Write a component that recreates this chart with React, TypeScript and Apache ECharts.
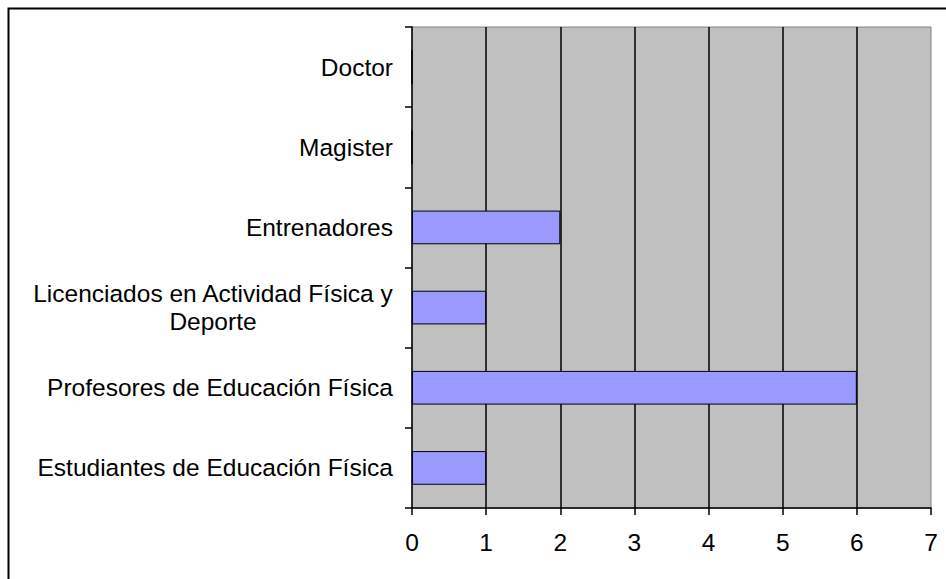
import React, { useEffect, useRef } from "react";
import * as echarts from "echarts";

const categories = [
  "Estudiantes de Educación Física",
  "Profesores de Educación Física",
  "Licenciados en Actividad Física y\nDeporte",
  "Entrenadores",
  "Magister",
  "Doctor",
];
const values = [1, 6, 1, 2, 0, 0];
const xTicks = [0, 1, 2, 3, 4, 5, 6, 7];

const FONT = "'Liberation Sans', Arial, sans-serif";
const FS = 24.5;

export default function App() {
  const ref = useRef<HTMLDivElement>(null);
  useEffect(() => {
    if (!ref.current) return;
    const chart = echarts.init(ref.current, null, { renderer: "svg" });
    chart.setOption({
      animation: false,
      backgroundColor: "#ffffff",
      graphic: [
        {
          type: "rect",
          shape: { x: 8.5, y: 8.5, width: 960, height: 600 },
          style: { fill: "none", stroke: "#000000", lineWidth: 2 },
          z: 100,
        },
      ],
      grid: {
        left: 412,
        top: 27,
        right: 15,
        bottom: 71,
        show: true,
        backgroundColor: "#C0C0C0",
        borderColor: "#808080",
        borderWidth: 1,
      },
      xAxis: {
        type: "value",
        min: xTicks[0],
        max: xTicks[xTicks.length - 1],
        interval: 1,
        axisLine: { show: true, lineStyle: { color: "#000000", width: 1.5 } },
        axisTick: { show: true, length: 7, lineStyle: { color: "#000000", width: 1.5 } },
        axisLabel: { color: "#000000", fontSize: FS, fontFamily: FONT, margin: 22 },
        splitLine: {
          show: true,
          showMinLine: false,
          showMaxLine: false,
          lineStyle: { color: "#000000", width: 1.5 },
        },
      },
      yAxis: {
        type: "category",
        data: categories,
        axisLine: { show: true, lineStyle: { color: "#000000", width: 1.5 } },
        axisTick: { show: true, length: 7, lineStyle: { color: "#000000", width: 1.5 } },
        axisLabel: {
          color: "#000000",
          fontSize: FS,
          fontFamily: FONT,
          margin: 19,
          interval: 0,
          formatter: (v: string) => {
            if (v.indexOf("\n") >= 0) {
              return v
                .split("\n")
                .map((s) => "{c|" + s + "}")
                .join("\n");
            }
            return v;
          },
          rich: {
            c: {
              width: 360,
              align: "center",
              fontSize: FS,
              fontFamily: FONT,
              color: "#000000",
              lineHeight: 28,
            },
          },
        },
        splitLine: { show: false },
      },
      series: [
        {
          type: "bar",
          data: values,
          barWidth: "42%",
          itemStyle: { color: "#9999FF", borderColor: "#000000", borderWidth: 1 },
        },
      ],
    });
    return () => chart.dispose();
  }, []);
  return (
    <div
      ref={ref}
      style={{ position: "fixed", left: 0, top: 0, width: 946, height: 579 }}
    />
  );
}
